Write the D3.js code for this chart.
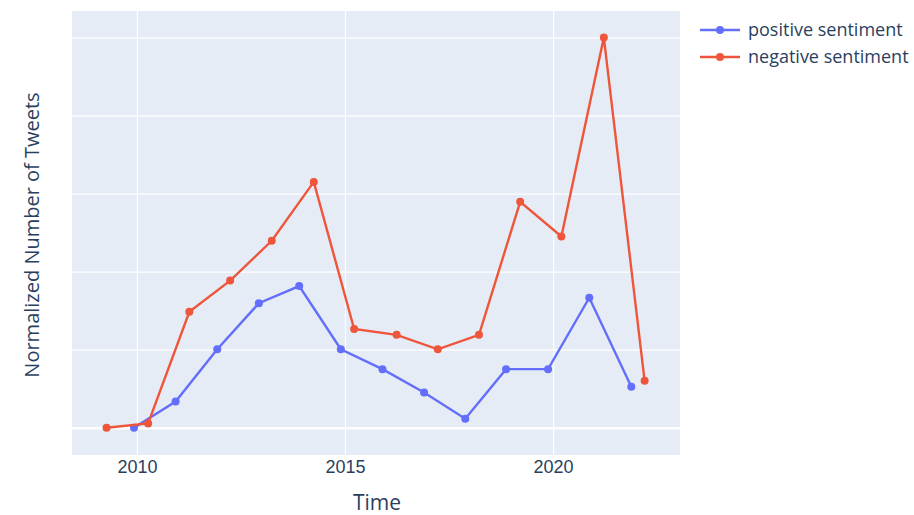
<!DOCTYPE html>
<html><head><meta charset="utf-8">
<script src="https://cdn.jsdelivr.net/npm/d3@7"></script>
<style>body{margin:0;background:#fff;}svg{font-family:"Open Sans",sans-serif;}</style>
</head><body>
<svg id="c" width="914" height="515"></svg>
<script>
const posTime = [2009.93,2010.93,2011.93,2012.93,2013.9,2014.9,2015.9,2016.9,2017.89,2018.87,2019.88,2020.87,2021.88];
const posValues = [0,0.067,0.201,0.319,0.363,0.201,0.150,0.090,0.023,0.150,0.150,0.333,0.105];
const negTime = [2009.27,2010.27,2011.26,2012.24,2013.24,2014.25,2015.22,2016.24,2017.23,2018.22,2019.21,2020.2,2021.22,2022.2];
const negValues = [0,0.011,0.297,0.377,0.479,0.630,0.253,0.238,0.201,0.238,0.579,0.490,1.0,0.120];
const xTicks = [2010,2015,2020];
const yGrid = [0,0.2,0.4,0.6,0.8,1.0];
const seriesNames = ["positive sentiment","negative sentiment"];
const colors = ["#636efa","#EF553B"];

const svg = d3.select("#c");
const L=72,T=11,R=680,B=455;
const x = d3.scaleLinear().domain([2008.44,2023.05]).range([L,R]);
const y = d3.scaleLinear().domain([-0.070,1.068]).range([B,T]);

svg.append("rect").attr("x",L).attr("y",T).attr("width",R-L).attr("height",B-T).attr("fill","#E5ECF6");
// grid
const xg = svg.append("g").attr("transform",`translate(0,${B})`)
  .call(d3.axisBottom(x).tickValues(xTicks).tickFormat(d3.format("d")).tickSize(-(B-T)).tickPadding(0));
xg.select(".domain").remove();
xg.selectAll("line").attr("stroke","#fff").attr("stroke-width",1.2);
xg.selectAll("text").attr("fill","#2a3f5f").attr("dy",null).attr("y",18).style("font-size","18px");
const yg = svg.append("g").attr("transform",`translate(${L},0)`)
  .call(d3.axisLeft(y).tickValues(yGrid).tickFormat("").tickSize(-(R-L)));
yg.select(".domain").remove();
yg.selectAll("line").attr("stroke","#fff").attr("stroke-width",d=>d===0?2.4:1.2);

const series = [
  {name:seriesNames[0],t:posTime,v:posValues,c:colors[0]},
  {name:seriesNames[1],t:negTime,v:negValues,c:colors[1]}
];
const line = d3.line().x(d=>x(d[0])).y(d=>y(d[1]));
series.forEach(s=>{
  const pts = s.t.map((t,i)=>[t,s.v[i]]);
  svg.append("path").datum(pts).attr("d",line).attr("fill","none").attr("stroke",s.c).attr("stroke-width",2.4);
  svg.append("g").selectAll("circle").data(pts).join("circle")
    .attr("cx",d=>x(d[0])).attr("cy",d=>y(d[1])).attr("r",4).attr("fill",s.c);
});

// axis titles
svg.append("text").attr("x",377).attr("y",510).attr("text-anchor","middle")
  .attr("fill","#2a3f5f").style("font-size","21px").text("Time");
svg.append("text").attr("transform",`translate(39,235) rotate(-90)`).attr("text-anchor","middle")
  .attr("fill","#2a3f5f").style("font-size","20px").text("Normalized Number of Tweets");

// legend
series.forEach((s,i)=>{
  const ly = 30 + i*27;
  svg.append("line").attr("x1",700).attr("x2",740).attr("y1",ly).attr("y2",ly).attr("stroke",s.c).attr("stroke-width",2.4);
  svg.append("circle").attr("cx",720).attr("cy",ly).attr("r",4).attr("fill",s.c);
  svg.append("text").attr("x",748).attr("y",ly+6).attr("fill","#2a3f5f").style("font-size","18px").text(s.name);
});
</script>
</body></html>
